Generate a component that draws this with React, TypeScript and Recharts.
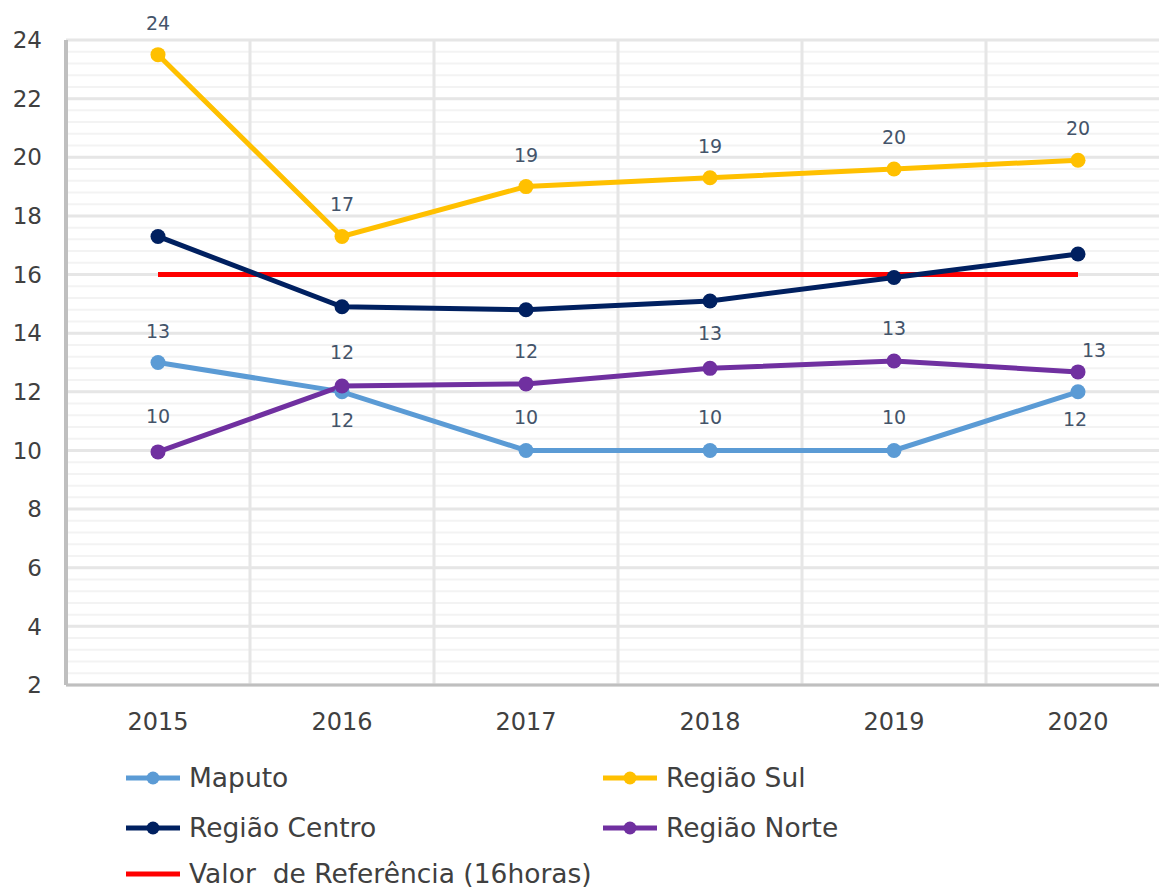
import React from 'react'
import { LineChart, Line, XAxis, YAxis, CartesianGrid, LabelList } from 'recharts'

const years = ['2015', '2016', '2017', '2018', '2019', '2020']
const maputo = [13, 12, 10, 10, 10, 12]
const regiaoSul = [23.5, 17.3, 19.0, 19.3, 19.6, 19.9]
const regiaoCentro = [17.3, 14.9, 14.8, 15.1, 15.9, 16.7]
const regiaoNorte = [9.95, 12.2, 12.27, 12.8, 13.05, 12.68]
const referencia = [16, 16, 16, 16, 16, 16]
const yTicks = [2, 4, 6, 8, 10, 12, 14, 16, 18, 20, 22, 24]
const Y_MIN = 2
const Y_MAX = 24
// excel minor unit = major / 5
const minorTicks = Array.from({ length: 56 }, (_, i) => +(Y_MIN + i * 0.4).toFixed(1))

const data = years.map((year, i) => ({
  year,
  maputo: maputo[i],
  sul: regiaoSul[i],
  centro: regiaoCentro[i],
  norte: regiaoNorte[i],
  ref: referencia[i],
}))

const COLORS = {
  maputo: '#5b9bd5',
  sul: '#ffc000',
  centro: '#002060',
  norte: '#7030a0',
  ref: '#ff0000',
}

const FONT = '"DejaVu Sans", Verdana, sans-serif'

const marker = (color: string) => (props: any) => {
  const { cx, cy, index } = props
  if (cx == null || cy == null) return <g key={index} />
  return <circle key={index} cx={cx} cy={cy} r={7.5} fill={color} />
}

// label offsets (dx, dy) relative to the point, per year
const sulOffsets = years.map(() => [0, -32])
const maputoOffsets = [[0, -32], [0, 28], [0, -33], [0, -33], [0, -33], [-3, 27]]
const norteOffsets = [[0, -36], [0, -34], [0, -33], [0, -35], [0, -33], [16, -22]]

const labelRenderer = (offsets: number[][]) => (props: any) => {
  const { x, y, value, index } = props
  const [dx, dy] = offsets[index]
  return (
    <text
      x={x + dx}
      y={y + dy}
      textAnchor="middle"
      dominantBaseline="central"
      fill="#44546a"
      fontSize={19}
      fontFamily={FONT}
    >
      {Math.round(value)}
    </text>
  )
}

// band edges (category boundaries) for the vertical gridlines
const bandLines = ({ offset }: any) =>
  Array.from({ length: years.length + 1 }, (_, i) => offset.left + (i * offset.width) / years.length)

const minorLines = ({ offset }: any) =>
  minorTicks.map((v) => offset.top + (offset.height * (Y_MAX - v)) / (Y_MAX - Y_MIN))

const legendItems = [
  { label: 'Maputo', color: COLORS.maputo, marker: true, left: 126, top: 778 },
  { label: 'Região Sul', color: COLORS.sul, marker: true, left: 603, top: 778 },
  { label: 'Região Centro', color: COLORS.centro, marker: true, left: 126, top: 828 },
  { label: 'Região Norte', color: COLORS.norte, marker: true, left: 603, top: 828 },
  { label: 'Valor  de Referência (16horas)', color: COLORS.ref, marker: false, left: 126, top: 874 },
]

function LegendBox() {
  return (
    <>
      {legendItems.map((item) => (
        <div
          key={item.label}
          style={{
            position: 'absolute',
            left: item.left,
            top: item.top - 14,
            height: 28,
            lineHeight: '28px',
            display: 'flex',
            alignItems: 'center',
            fontFamily: FONT,
            fontSize: 26.5,
            color: '#404040',
            whiteSpace: 'pre',
          }}
        >
          <svg width={56} height={20} style={{ marginRight: 7 }}>
            <line x1={0} y1={10} x2={54} y2={10} stroke={item.color} strokeWidth={5} />
            {item.marker && <circle cx={27} cy={10} r={6.5} fill={item.color} />}
          </svg>
          {item.label}
        </div>
      ))}
    </>
  )
}

export default function App() {
  return (
    <div style={{ position: 'absolute', left: 0, top: 0, width: 1159, height: 888, overflow: 'hidden', background: '#fff' }}>
      <LineChart width={1180} height={740} data={data} margin={{ top: 40, right: 10, bottom: 0, left: 10 }}>
        <CartesianGrid
          vertical={false}
          horizontalCoordinatesGenerator={minorLines}
          stroke="#f3f3f3"
          strokeWidth={2}
        />
        <CartesianGrid horizontal={false} verticalCoordinatesGenerator={bandLines} stroke="#e6e6e6" strokeWidth={3} />
        <CartesianGrid vertical={false} stroke="#e6e6e6" strokeWidth={3} />
        <XAxis
          dataKey="year"
          padding={{ left: 92, right: 92 }}
          height={55}
          axisLine={{ stroke: '#bfbfbf', strokeWidth: 3 }}
          tickLine={false}
          tickMargin={22}
          tick={{ fill: '#404040', fontSize: 24, fontFamily: FONT }}
        />
        <YAxis
          domain={[Y_MIN, Y_MAX]}
          ticks={yTicks}
          width={56}
          interval={0}
          axisLine={{ stroke: '#bfbfbf', strokeWidth: 4 }}
          tickLine={false}
          tickSize={0}
          tickMargin={24}
          tick={{ fill: '#404040', fontSize: 23, fontFamily: FONT }}
        />
        <Line dataKey="ref" stroke={COLORS.ref} strokeWidth={5} dot={false} isAnimationActive={false} />
        <Line dataKey="maputo" stroke={COLORS.maputo} strokeWidth={5} dot={marker(COLORS.maputo)} isAnimationActive={false}>
          <LabelList dataKey="maputo" content={labelRenderer(maputoOffsets)} />
        </Line>
        <Line dataKey="centro" stroke={COLORS.centro} strokeWidth={5} dot={marker(COLORS.centro)} isAnimationActive={false} />
        <Line dataKey="norte" stroke={COLORS.norte} strokeWidth={5} dot={marker(COLORS.norte)} isAnimationActive={false}>
          <LabelList dataKey="norte" content={labelRenderer(norteOffsets)} />
        </Line>
        <Line dataKey="sul" stroke={COLORS.sul} strokeWidth={5} dot={marker(COLORS.sul)} isAnimationActive={false}>
          <LabelList dataKey="sul" content={labelRenderer(sulOffsets)} />
        </Line>
      </LineChart>
      <LegendBox />
    </div>
  )
}
